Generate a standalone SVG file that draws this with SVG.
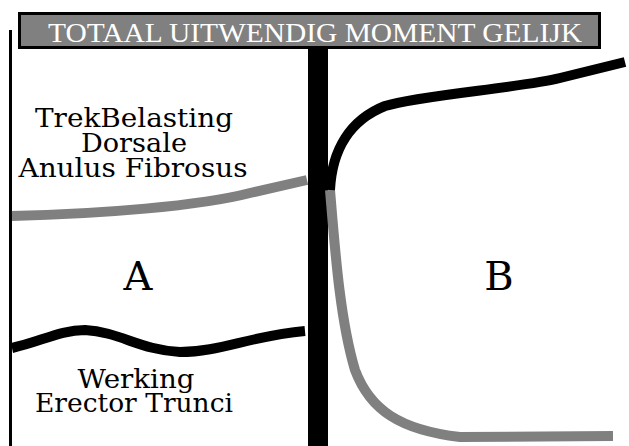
<svg xmlns="http://www.w3.org/2000/svg" width="629" height="446" viewBox="0 0 629 446">
<style>
.lbl{font-family:"DejaVu Serif",serif;font-size:26px;fill:#000;text-anchor:middle}
.big{font-family:"DejaVu Serif",serif;font-size:40px;fill:#000;text-anchor:middle}
.ttl{font-family:"Liberation Serif",serif;font-size:27px;fill:#fff;text-anchor:middle}
.gray{fill:none;stroke:#808080;stroke-width:10}
.blk{fill:none;stroke:#000;stroke-width:10}
</style>
<rect width="629" height="446" fill="#fff"/>
<g id="title">
<rect x="19.5" y="13.5" width="580" height="34" fill="#808080" stroke="#000" stroke-width="3"/>
<text class="ttl" x="315" y="42" textLength="534" lengthAdjust="spacingAndGlyphs">TOTAAL UITWENDIG MOMENT GELIJK</text>
</g>
<g id="axes">
<rect x="9" y="30" width="3" height="416" fill="#000"/>
<rect x="308" y="48" width="20" height="398" fill="#000"/>
</g>
<g id="connectors">
<path class="gray" d="M12,216 C100,214 200,206 250,193 L307,180"/>
<path class="blk" d="M12,348 C40,342 60,330 85,330 C120,332 140,350 180,352 C220,352 250,336 305,331"/>
<path class="gray" d="M330,190 C335,250 340,320 355,370 C370,410 400,430 460,437 L613,436"/>
<path class="blk" d="M330,190 C332,150 350,120 385,106 C420,95 520,88 560,78 L625,62"/>
</g>
<g id="labelA">
<text class="lbl" x="134" y="127" textLength="198" lengthAdjust="spacingAndGlyphs">TrekBelasting</text>
<text class="lbl" x="134" y="152" textLength="106" lengthAdjust="spacingAndGlyphs">Dorsale</text>
<text class="lbl" x="133" y="177" textLength="229" lengthAdjust="spacingAndGlyphs">Anulus Fibrosus</text>
<text class="big" x="138" y="290">A</text>
<text class="lbl" x="136" y="388" textLength="117" lengthAdjust="spacingAndGlyphs">Werking</text>
<text class="lbl" x="134" y="412" textLength="198" lengthAdjust="spacingAndGlyphs">Erector Trunci</text>
</g>
<g id="labelB">
<text class="big" x="499" y="290">B</text>
</g>
</svg>
